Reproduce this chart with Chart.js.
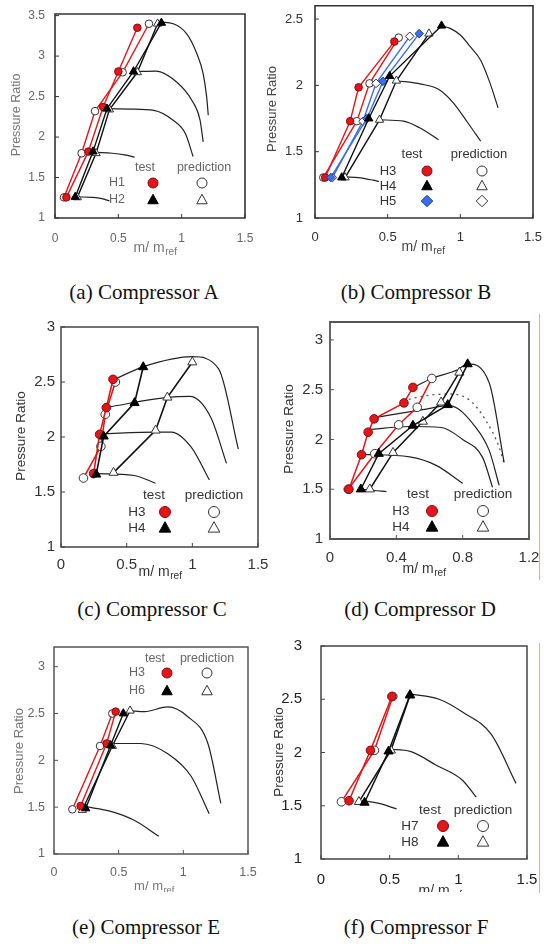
<!DOCTYPE html>
<html><head><meta charset="utf-8">
<script src="https://cdn.jsdelivr.net/npm/chart.js@4/dist/chart.umd.min.js"></script>
<style>
html,body{margin:0;padding:0;background:#fff}
body{width:544px;height:944px;position:relative;overflow:hidden}
.cap{position:absolute;font-family:"Liberation Serif","Times New Roman",serif;font-size:21px;color:#111;transform:translate(-50%,-50%);white-space:nowrap}
.redline{position:absolute;width:1px;background:#f3a3a3}
</style></head>
<body>
<div class="redline" style="left:539px;top:314px;height:266px"></div>
<div class="redline" style="left:539px;top:643px;height:250px"></div>
<script>
// ---------- tick arrays ----------
const XT15 = [0, 0.5, 1, 1.5];
const XT12 = [0, 0.4, 0.8, 1.2];
const YT_A = [1, 1.5, 2, 2.5, 3, 3.5];
const YT_B = [1, 1.5, 2, 2.5];
const YT_3 = [1, 1.5, 2, 2.5, 3];

// ---------- (a) Compressor A ----------
const A_H1_test = [[0.09,1.255],[0.263,1.82],[0.38,2.37],[0.50,2.81],[0.65,3.35]];
const A_H1_pred = [[0.071,1.255],[0.21,1.80],[0.316,2.32],[0.534,2.80],[0.742,3.40]];
const A_H2_test = [[0.16,1.26],[0.30,1.82],[0.41,2.35],[0.62,2.81],[0.84,3.41]];
const A_H2_pred = [[0.176,1.255],[0.324,1.80],[0.43,2.34],[0.65,2.80],[0.81,3.40]];
const A_speed1 = [[0.176,1.26],[0.3,1.255],[0.37,1.24],[0.43,1.21]];
const A_speed2 = [[0.324,1.81],[0.45,1.80],[0.55,1.78],[0.63,1.75]];
const A_speed3 = [[0.43,2.35],[0.6,2.345],[0.78,2.33],[0.93,2.21],[1.03,2.04],[1.09,1.76]];
const A_speed4 = [[0.63,2.81],[0.80,2.815],[0.96,2.68],[1.08,2.455],[1.145,2.21],[1.17,1.94]];
const A_speed5 = [[0.837,3.42],[0.934,3.40],[1.04,3.275],[1.12,3.03],[1.17,2.78],[1.197,2.50],[1.21,2.27]];

// ---------- (b) Compressor B ----------
const B_H3_test = [[0.07,1.305],[0.242,1.73],[0.30,1.985],[0.546,2.33]];
const B_H3_pred = [[0.057,1.305],[0.288,1.73],[0.375,2.015],[0.576,2.36]];
const B_H4_test = [[0.184,1.305],[0.37,1.75],[0.514,2.07],[0.871,2.45]];
const B_H4_pred = [[0.207,1.305],[0.444,1.74],[0.56,2.035],[0.784,2.39]];
const B_H5_test = [[0.108,1.305],[0.357,1.75],[0.468,2.03],[0.717,2.39]];
const B_H5_pred = [[0.12,1.305],[0.33,1.73],[0.42,2.015],[0.652,2.37]];
const B_speed1 = [[0.207,1.31],[0.3,1.305],[0.40,1.285],[0.44,1.275]];
const B_speed2 = [[0.444,1.74],[0.61,1.73],[0.72,1.68],[0.85,1.59]];
const B_speed3 = [[0.56,2.035],[0.73,2.01],[0.85,1.97],[0.95,1.87],[1.05,1.72],[1.14,1.58]];
const B_speed4 = [[0.871,2.45],[0.93,2.43],[1.0,2.38],[1.07,2.29],[1.14,2.19],[1.2,2.03],[1.26,1.83]];

// ---------- (c) Compressor C ----------
const C_H3_test = [[0.248,1.667],[0.294,2.024],[0.345,2.267],[0.396,2.524]];
const C_H3_pred = [[0.171,1.627],[0.304,1.915],[0.337,2.206],[0.414,2.50]];
const C_H4_test = [[0.268,1.66],[0.325,2.006],[0.56,2.31],[0.626,2.636]];
const C_H4_pred = [[0.40,1.676],[0.72,2.06],[0.81,2.36],[1.0,2.68]];
const C_speed1 = [[0.268,1.667],[0.555,1.65],[0.72,1.58]];
const C_speed2 = [[0.31,2.03],[0.72,2.045],[0.84,2.045],[0.99,1.91],[1.13,1.61]];
const C_speed3 = [[0.35,2.27],[0.81,2.36],[0.98,2.37],[1.14,2.18],[1.26,1.76]];
const C_speed4 = [[0.40,2.52],[0.63,2.64],[1.0,2.73],[1.2,2.62],[1.35,1.89]];

// ---------- (d) Compressor D ----------
const D_H3_test = [[0.114,1.50],[0.19,1.847],[0.23,2.073],[0.266,2.207],[0.446,2.367],[0.50,2.523]];
const D_H3_pred = [[0.11,1.50],[0.27,1.857],[0.414,2.147],[0.526,2.323],[0.614,2.613]];
const D_H4_test = [[0.186,1.50],[0.294,1.857],[0.50,2.14],[0.71,2.347],[0.83,2.757]];
const D_H4_pred = [[0.24,1.50],[0.38,1.867],[0.56,2.18],[0.67,2.373],[0.78,2.673]];
const D_speed1 = [[0.186,1.5],[0.26,1.49],[0.34,1.475]];
const D_speed2 = [[0.19,1.85],[0.48,1.825],[0.64,1.74],[0.8,1.56]];
const D_speed3 = [[0.23,2.10],[0.48,2.13],[0.67,2.12],[0.80,2.0],[0.92,1.82],[0.98,1.52]];
const D_speed4 = [[0.27,2.22],[0.56,2.30],[0.72,2.34],[0.88,2.12],[0.96,1.89],[1.02,1.54]];
const D_speed5 = [[0.50,2.52],[0.614,2.613],[0.77,2.70],[0.83,2.76],[0.96,2.57],[1.05,1.77]];
const D_dotted = [[0.44,2.39],[0.58,2.44],[0.72,2.457],[0.84,2.397],[0.94,2.19],[1.02,1.923],[1.05,1.757]];

// ---------- (e) Compressor E ----------
const E_H3_test = [[0.206,1.512],[0.407,2.18],[0.477,2.52]];
const E_H3_pred = [[0.142,1.477],[0.356,2.153],[0.451,2.50]];
const E_H6_test = [[0.245,1.487],[0.438,2.16],[0.536,2.50]];
const E_H6_pred = [[0.219,1.47],[0.451,2.153],[0.588,2.53]];
const E_speed1 = [[0.245,1.505],[0.44,1.455],[0.62,1.36],[0.81,1.19]];
const E_speed2 = [[0.45,2.18],[0.67,2.18],[0.88,2.07],[1.06,1.83],[1.2,1.43]];
const E_speed3 = [[0.59,2.53],[0.70,2.52],[0.88,2.57],[1.03,2.47],[1.19,2.18],[1.29,1.54]];

// ---------- (f) Compressor F ----------
const F_H7_test = [[0.204,1.547],[0.36,2.02],[0.516,2.526]];
const F_H7_pred = [[0.149,1.537],[0.389,2.02],[0.523,2.526]];
const F_H8_test = [[0.317,1.53],[0.492,2.011],[0.648,2.54]];
const F_H8_pred = [[0.276,1.537],[0.509,2.02],[0.648,2.536]];
const F_speed1 = [[0.31,1.547],[0.43,1.52],[0.55,1.47]];
const F_speed2 = [[0.5,2.03],[0.65,2.01],[0.84,1.88],[1.03,1.74],[1.13,1.58]];
const F_speed3 = [[0.65,2.55],[0.86,2.50],[1.03,2.38],[1.24,2.17],[1.42,1.71]];

// ---------- styles ----------
const SANS = '"Liberation Sans", Arial, sans-serif';
const RED = '#e3161b', BLUE = '#3a6ee8', BLK = '#111';
const TEST_RED = {style:'circle', fill:RED, stroke:'#8a0a0a'};
const TEST_BLK = {style:'triangle', fill:'#000', stroke:'#000'};
const TEST_BLUE = {style:'rectRot', fill:BLUE, stroke:'#1f3f9f'};
const PRED_C = {style:'circle', fill:'#fff', stroke:'#333'};
const PRED_T = {style:'triangle', fill:'#fff', stroke:'#333'};
const PRED_D = {style:'rectRot', fill:'#fff', stroke:'#333'};

const panels = [
 {id:'a', box:[0,0,262,262], area:[55,245,14,218], x:[0,1.5], y:[1,3.52], xt:XT15, yt:YT_A,
  tf:12, tc:'#666', xpad:13, ypad:10, boxC:'#333', boxW:1.6, lw:1.4, pr:3.8,
  ytitle:[17,115,12.5,'#777'], xtitle:[155,248,14,'#777'],
  series:[[A_H2_pred,BLK,PRED_T],[A_H1_pred,RED,PRED_C],[A_H2_test,BLK,TEST_BLK],[A_H1_test,RED,TEST_RED]],
  speeds:[A_speed1,A_speed2,A_speed3,A_speed4,A_speed5], dotted:[],
  legend:{fs:12.5, color:'#666', r:5, hdr:[[145,168,'test'],[204,168,'prediction']],
    rows:[['H1',117,153,202,183,TEST_RED,PRED_C],['H2',117,153,202,200,TEST_BLK,PRED_T]]},
  caption:['(a) Compressor A',144,292]},
 {id:'b', box:[262,0,282,262], area:[315,533,5,218], x:[0,1.5], y:[1,2.6], xt:XT15, yt:YT_B,
  tf:13, tc:'#333', xpad:12, ypad:12, boxC:'#333', boxW:1.6, lw:1.4, pr:3.8,
  ytitle:[272,109,13,'#444'], xtitle:[423,247,14,'#444'],
  series:[[B_H4_pred,BLK,PRED_T],[B_H5_pred,BLUE,PRED_D],[B_H3_pred,RED,PRED_C],[B_H4_test,BLK,TEST_BLK],[B_H5_test,BLUE,TEST_BLUE],[B_H3_test,RED,TEST_RED]],
  speeds:[B_speed1,B_speed2,B_speed3,B_speed4], dotted:[],
  legend:{fs:13, color:'#333', r:5, hdr:[[412,154,'test'],[479,154,'prediction']],
    rows:[['H3',388,427,482,171,TEST_RED,PRED_C],['H4',388,427,482,186,TEST_BLK,PRED_T],['H5',388,427,482,201,TEST_BLUE,PRED_D]]},
  caption:['(b) Compressor B',416,292]},
 {id:'c', box:[0,310,272,280], area:[61,258,327,547], x:[0,1.5], y:[1,3], xt:XT15, yt:YT_3,
  tf:15, tc:'#333', xpad:9, ypad:6, boxC:'#444', boxW:1.5, lw:1.6, pr:4.3,
  ytitle:[21,436,13.5,'#333'], xtitle:[160,572,14,'#333'],
  series:[[C_H4_pred,BLK,PRED_T],[C_H3_pred,RED,PRED_C],[C_H4_test,BLK,TEST_BLK],[C_H3_test,RED,TEST_RED]],
  speeds:[C_speed1,C_speed2,C_speed3,C_speed4], dotted:[],
  legend:{fs:13.5, color:'#333', r:5.5, hdr:[[154,495,'test'],[214,495,'prediction']],
    rows:[['H3',137,165,214,512,TEST_RED,PRED_C],['H4',137,165,214,528,TEST_BLK,PRED_T]]},
  caption:['(c) Compressor C',152,609]},
 {id:'d', box:[272,310,272,280], area:[330,529,322,539], x:[0,1.2], y:[1,3.18], xt:XT12, yt:YT_3,
  tf:15, tc:'#333', xpad:10, ypad:7, boxC:'#555', boxW:1.8, lw:1.5, pr:4.3,
  ytitle:[289,429,13.5,'#333'], xtitle:[424,569,14,'#333'],
  series:[[D_H4_pred,BLK,PRED_T],[D_H3_pred,RED,PRED_C],[D_H4_test,BLK,TEST_BLK],[D_H3_test,RED,TEST_RED]],
  speeds:[D_speed1,D_speed2,D_speed3,D_speed4,D_speed5], dotted:[D_dotted],
  legend:{fs:13.5, color:'#333', r:5.5, hdr:[[418,494,'test'],[483,494,'prediction']],
    rows:[['H3',401,432,483,511,TEST_RED,PRED_C],['H4',401,432,483,527,TEST_BLK,PRED_T]]},
  caption:['(d) Compressor D',420,609]},
 {id:'e', box:[0,630,272,262], area:[54,248,647,854], x:[0,1.5], y:[1,3.21], xt:XT15, yt:YT_3,
  tf:12.5, tc:'#666', xpad:11, ypad:9, boxC:'#555', boxW:1.5, lw:1.4, pr:3.8,
  ytitle:[19,751,13,'#777'], xtitle:[154,886,13,'#777'],
  series:[[E_H6_pred,BLK,PRED_T],[E_H3_pred,RED,PRED_C],[E_H6_test,BLK,TEST_BLK],[E_H3_test,RED,TEST_RED]],
  speeds:[E_speed1,E_speed2,E_speed3], dotted:[],
  legend:{fs:12.5, color:'#666', r:5, hdr:[[155,659,'test'],[207,659,'prediction']],
    rows:[['H3',137,167,207,673,TEST_RED,PRED_C],['H6',137,167,207,691,TEST_BLK,PRED_T]]},
  caption:['(e) Compressor E',146,927]},
 {id:'f', box:[272,630,272,262], area:[321,527,646,859], x:[0,1.5], y:[1,3], xt:XT15, yt:YT_3,
  tf:15, tc:'#222', xpad:12, ypad:19, boxC:'#444', boxW:1.5, lw:1.5, pr:4.3,
  ytitle:[279,752,13.5,'#333'], xtitle:[440,891,14,'#333'],
  series:[[F_H8_pred,BLK,PRED_T],[F_H7_pred,RED,PRED_C],[F_H8_test,BLK,TEST_BLK],[F_H7_test,RED,TEST_RED]],
  speeds:[F_speed1,F_speed2,F_speed3], dotted:[],
  legend:{fs:13.5, color:'#333', r:5.5, hdr:[[430,810,'test'],[483,810,'prediction']],
    rows:[['H7',410,443,483,826,TEST_RED,PRED_C],['H8',410,443,483,842,TEST_BLK,PRED_T]]},
  caption:['(f) Compressor F',416,927]}
];

function pts(arr){ return arr.map(p => ({x:p[0], y:p[1]})); }

function drawMarker(ctx, mk, x, y, r){
  ctx.beginPath();
  if (mk.style === 'circle') ctx.arc(x, y, r, 0, Math.PI*2);
  else if (mk.style === 'triangle'){ ctx.moveTo(x, y-r*1.15); ctx.lineTo(x+r*1.05, y+r*0.75); ctx.lineTo(x-r*1.05, y+r*0.75); ctx.closePath(); }
  else { ctx.moveTo(x, y-r*1.15); ctx.lineTo(x+r*1.15, y); ctx.lineTo(x, y+r*1.15); ctx.lineTo(x-r*1.15, y); ctx.closePath(); }
  ctx.fillStyle = mk.fill; ctx.fill();
  ctx.lineWidth = 1; ctx.strokeStyle = mk.stroke; ctx.stroke();
}

function overlay(P){
  return {
    id: 'ov_' + P.id,
    afterDraw(chart){
      const ctx = chart.ctx;
      const xs = chart.scales.x, ys = chart.scales.y;
      const left = xs.left, right = xs.right, top = ys.top, bottom = ys.bottom;
      const ox = P.box[0], oy = P.box[1];
      ctx.save();
      // frame
      ctx.strokeStyle = P.boxC; ctx.lineWidth = P.boxW;
      ctx.beginPath();
      ctx.moveTo(left, top); ctx.lineTo(right, top); ctx.lineTo(right, bottom); ctx.lineTo(left, bottom); ctx.closePath();
      ctx.stroke();
      // inward ticks
      ctx.lineWidth = 1;
      P.yt.forEach(v => { const py = ys.getPixelForValue(v);
        ctx.beginPath(); ctx.moveTo(left, py); ctx.lineTo(left + 4, py); ctx.stroke(); });
      P.xt.forEach(v => { const px = xs.getPixelForValue(v);
        ctx.beginPath(); ctx.moveTo(px, bottom); ctx.lineTo(px, bottom - 4); ctx.stroke(); });
      // y title
      const [yx, yy, yfs, yc] = P.ytitle;
      ctx.save(); ctx.translate(yx - ox, yy - oy); ctx.rotate(-Math.PI/2);
      ctx.font = yfs + 'px ' + SANS; ctx.fillStyle = yc; ctx.textAlign = 'center'; ctx.textBaseline = 'middle';
      ctx.fillText('Pressure Ratio', 0, 0); ctx.restore();
      // x title m/m_ref
      const [xx, xy, xfs, xc] = P.xtitle;
      ctx.font = xfs + 'px ' + SANS; const w1 = ctx.measureText('m/ m').width;
      const fs2 = xfs * 0.72; ctx.font = fs2 + 'px ' + SANS; const w2 = ctx.measureText('ref').width;
      const x0 = xx - ox - (w1 + w2) / 2;
      ctx.fillStyle = xc; ctx.textAlign = 'left'; ctx.textBaseline = 'middle';
      ctx.font = xfs + 'px ' + SANS; ctx.fillText('m/ m', x0, xy - oy);
      ctx.font = fs2 + 'px ' + SANS; ctx.fillText('ref', x0 + w1 + 0.5, xy - oy + xfs * 0.32);
      // legend
      const L = P.legend;
      ctx.font = L.fs + 'px ' + SANS; ctx.fillStyle = L.color; ctx.textAlign = 'center'; ctx.textBaseline = 'middle';
      L.hdr.forEach(h => ctx.fillText(h[2], h[0] - ox, h[1] - oy));
      L.rows.forEach(r => {
        ctx.font = L.fs + 'px ' + SANS; ctx.fillStyle = L.color; ctx.textAlign = 'center'; ctx.textBaseline = 'middle';
        ctx.fillText(r[0], r[1] - ox, r[4] - oy);
        drawMarker(ctx, r[5], r[2] - ox, r[4] - oy, L.r);
        drawMarker(ctx, r[6], r[3] - ox, r[4] - oy, L.r);
      });
      ctx.restore();
    }
  };
}

function zeroPad(s){ s.paddingTop = 0; s.paddingBottom = 0; s.paddingLeft = 0; s.paddingRight = 0; }

function makeChart(P){
  const cv = document.createElement('canvas');
  cv.width = P.box[2]; cv.height = P.box[3];
  cv.style.cssText = 'position:absolute;left:' + P.box[0] + 'px;top:' + P.box[1] + 'px;width:' + P.box[2] + 'px;height:' + P.box[3] + 'px';
  document.body.appendChild(cv);
  const [L, R, T, B] = P.area;
  const datasets = [];
  P.series.forEach(s => {
    const [arr, lc, mk] = s;
    datasets.push({data: pts(arr), showLine: true, borderColor: lc, borderWidth: P.lw,
      pointStyle: mk.style, pointRadius: mk.style === 'triangle' ? P.pr + 1 : (mk.style === 'rectRot' ? P.pr + 0.5 : P.pr),
      pointBackgroundColor: mk.fill, pointBorderColor: mk.stroke, pointBorderWidth: 1,
      order: mk.fill === '#fff' ? 2 : 1});
  });
  P.speeds.forEach(arr => datasets.push({data: pts(arr), showLine: true, borderColor: '#222', borderWidth: 1.2,
    pointRadius: 0, cubicInterpolationMode: 'monotone', order: 5}));
  P.dotted.forEach(arr => datasets.push({data: pts(arr), showLine: true, borderColor: '#555', borderWidth: 1.3,
    borderDash: [2, 4], pointRadius: 0, cubicInterpolationMode: 'monotone', order: 5}));
  new Chart(cv, {
    type: 'scatter',
    data: {datasets},
    options: {
      responsive: false, animation: false, devicePixelRatio: 1, events: [],
      layout: {padding: {left: 0, bottom: 0, top: T - P.box[1], right: P.box[0] + P.box[2] - R}},
      plugins: {legend: {display: false}, tooltip: {enabled: false}},
      scales: {
        x: {type: 'linear', min: P.x[0], max: P.x[1],
          afterBuildTicks: s => { s.ticks = P.xt.map(v => ({value: v})); },
          afterFit: s => { s.height = P.box[1] + P.box[3] - B; zeroPad(s); },
          grid: {display: false, drawTicks: false}, border: {display: false},
          ticks: {autoSkip: false, maxRotation: 0, padding: P.xpad, color: P.tc,
            font: {family: SANS, size: P.tf}, callback: v => String(v)}},
        y: {type: 'linear', min: P.y[0], max: P.y[1],
          afterBuildTicks: s => { s.ticks = P.yt.map(v => ({value: v})); },
          afterFit: s => { s.width = L - P.box[0]; zeroPad(s); },
          grid: {display: false, drawTicks: false}, border: {display: false},
          ticks: {autoSkip: false, padding: P.ypad, color: P.tc,
            font: {family: SANS, size: P.tf}, callback: v => String(v)}}
      }
    },
    plugins: [overlay(P)]
  });
  const c = document.createElement('div');
  c.className = 'cap'; c.textContent = P.caption[0];
  c.style.left = P.caption[1] + 'px'; c.style.top = P.caption[2] + 'px';
  document.body.appendChild(c);
}

panels.forEach(makeChart);
</script>
</body></html>
